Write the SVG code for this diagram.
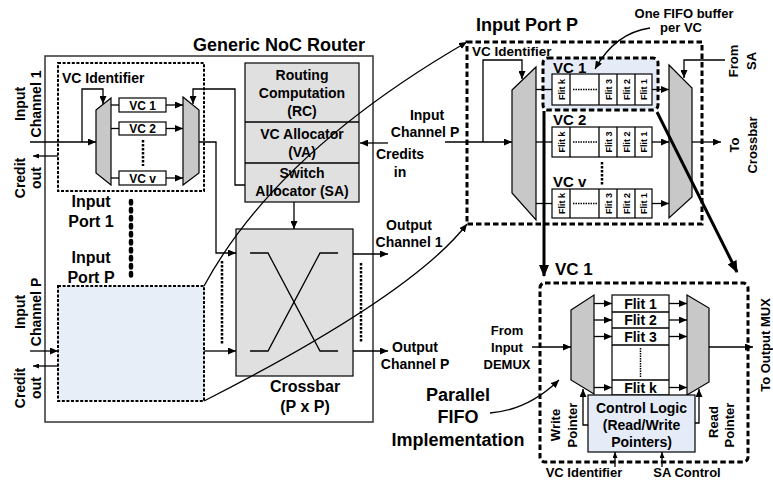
<svg xmlns="http://www.w3.org/2000/svg" width="773" height="481" viewBox="0 0 773 481">
<defs>
<style>
.t{font-family:"Liberation Sans",Arial,sans-serif;font-weight:bold;fill:#000}
.m{text-anchor:middle}
.ln{stroke:#000;stroke-width:1.3;fill:none}
.thk{stroke:#000;stroke-width:3;fill:none}
.mux{fill:#c8c8c8;stroke:#000;stroke-width:1.2}
.box{fill:#fff;stroke:#000;stroke-width:1.2}
.dash{fill:none;stroke:#000;stroke-width:2;stroke-dasharray:3 1.6}
.bdash{stroke:#000;stroke-width:3;stroke-dasharray:5.5 3}
.dots{stroke:#000;stroke-width:2.5;stroke-dasharray:2.5 1.5;fill:none}
.bigdots{stroke:#000;stroke-width:4.5;stroke-linecap:round;stroke-dasharray:2.5 5.5;fill:none}
.gray{fill:#e0e0e0;stroke:#000;stroke-width:1.2}
</style>
<marker id="a" viewBox="0 0 8 7" refX="8" refY="3.5" markerWidth="8" markerHeight="7" markerUnits="userSpaceOnUse" orient="auto"><path d="M0,0 L8,3.5 L0,7 z" fill="#000"/></marker>
<marker id="as" viewBox="0 0 6 5" refX="6" refY="2.5" markerWidth="6" markerHeight="5" markerUnits="userSpaceOnUse" orient="auto"><path d="M0,0 L6,2.5 L0,5 z" fill="#000"/></marker>
<marker id="ab" viewBox="0 0 12 10" refX="11" refY="5" markerWidth="12" markerHeight="10" markerUnits="userSpaceOnUse" orient="auto"><path d="M0,0 L12,5 L0,10 z" fill="#000"/></marker>
</defs>

<g id="router">
<rect x="45" y="56" width="328" height="366" fill="#fff" stroke="#333" stroke-width="1.5"/>
<text class="t m" x="279" y="51" font-size="18">Generic NoC Router</text>
</g>

<g id="input-port-1">
<rect class="dash" x="58" y="63" width="146" height="128"/>
<text class="t" x="62" y="83" font-size="14">VC Identifier</text>
<polygon class="mux" points="96,110 111,98 111,185 96,173"/>
<polygon class="mux" points="183,97 199,110 199,173 183,185"/>
<rect class="box" x="119" y="98" width="47" height="14"/>
<rect class="box" x="119" y="122" width="47" height="13"/>
<rect class="box" x="119" y="171" width="47" height="14"/>
<text class="t m" x="142.5" y="109.5" font-size="12">VC 1</text>
<text class="t m" x="142.5" y="133" font-size="12">VC 2</text>
<text class="t m" x="142.5" y="182.5" font-size="12">VC v</text>
<line class="dots" x1="143" y1="140" x2="143" y2="166"/>
</g>

<g id="labels-left">
<text class="t m" x="25" y="104" font-size="14" transform="rotate(-90 25 104)">Input</text>
<text class="t m" x="41" y="104" font-size="14" transform="rotate(-90 41 104)">Channel 1</text>
<text class="t m" x="25" y="178" font-size="14" transform="rotate(-90 25 178)">Credit</text>
<text class="t m" x="41" y="178" font-size="14" transform="rotate(-90 41 178)">out</text>
<text class="t m" x="25" y="312" font-size="14" transform="rotate(-90 25 312)">Input</text>
<text class="t m" x="41" y="312" font-size="14" transform="rotate(-90 41 312)">Channel P</text>
<text class="t m" x="25" y="388" font-size="14" transform="rotate(-90 25 388)">Credit</text>
<text class="t m" x="41" y="388" font-size="14" transform="rotate(-90 41 388)">out</text>
<text class="t m" x="91" y="207" font-size="16">Input</text>
<text class="t m" x="91" y="227" font-size="16">Port 1</text>
<text class="t m" x="91" y="263" font-size="16">Input</text>
<text class="t m" x="91" y="283" font-size="16">Port P</text>
<line class="bigdots" x1="131" y1="201" x2="131" y2="281"/>
</g>

<g id="input-port-p-small">
<rect x="58" y="286" width="146" height="115" fill="#e8eef8" stroke="none"/>
<rect class="dash" x="58" y="286" width="146" height="115"/>
</g>

<g id="allocators">
<rect class="gray" x="245" y="63" width="114" height="139"/>
<line class="ln" x1="245" y1="122" x2="359" y2="122"/>
<line class="ln" x1="245" y1="163" x2="359" y2="163"/>
<text class="t m" x="302" y="80" font-size="14">Routing</text>
<text class="t m" x="302" y="98" font-size="14">Computation</text>
<text class="t m" x="302" y="116" font-size="14">(RC)</text>
<text class="t m" x="302" y="139" font-size="14">VC Allocator</text>
<text class="t m" x="302" y="157" font-size="14">(VA)</text>
<text class="t m" x="302" y="178" font-size="14">Switch</text>
<text class="t m" x="302" y="196" font-size="14">Allocator (SA)</text>
</g>

<g id="crossbar">
<rect class="gray" x="236" y="229" width="117" height="147"/>
<polyline class="ln" points="250,253 268,253 320,351 338,351" stroke-width="1.1"/>
<polyline class="ln" points="250,351 268,351 320,253 338,253" stroke-width="1.1"/>
<text class="t m" x="305" y="392" font-size="16">Crossbar</text>
<text class="t m" x="305" y="412" font-size="16">(P x P)</text>
<line class="dots" x1="222" y1="261" x2="222" y2="345"/>
<line class="dots" x1="361" y1="263" x2="361" y2="342"/>
</g>

<g id="router-labels">
<text class="t m" x="400" y="159" font-size="14">Credits</text>
<text class="t m" x="400" y="177" font-size="14">in</text>
<text class="t m" x="409" y="230" font-size="14">Output</text>
<text class="t m" x="409" y="247" font-size="14">Channel 1</text>
<text class="t m" x="415" y="352" font-size="14">Output</text>
<text class="t m" x="415" y="369" font-size="14">Channel P</text>
<text class="t m" x="427" y="120" font-size="14">Input</text>
<text class="t m" x="425" y="137" font-size="14">Channel P</text>
</g>

<g id="input-port-p">
<text class="t m" x="527" y="31" font-size="18">Input Port P</text>
<rect class="bdash" x="467" y="42" width="235" height="182" fill="none"/>
<text class="t" x="472" y="56" font-size="13.5">VC Identifier</text>
<rect class="bdash" x="543" y="58" width="115" height="52" rx="5" fill="#e6ecf7"/>
<polygon class="mux" points="512,90 536,67 536,220 512,193"/>
<polygon class="mux" points="669,65 692,88 692,197 669,218"/>
<text class="t" x="553" y="73" font-size="15">VC 1</text>
<text class="t" x="553" y="125" font-size="15">VC 2</text>
<text class="t" x="553" y="187" font-size="15">VC v</text>
<g id="buf1">
<rect class="box" x="552" y="74" width="100" height="31"/>
<line class="ln" x1="570" y1="74" x2="570" y2="105"/><line class="ln" x1="599" y1="74" x2="599" y2="105"/><line class="ln" x1="617" y1="74" x2="617" y2="105"/><line class="ln" x1="635" y1="74" x2="635" y2="105"/>
<line class="ln" x1="573" y1="89.5" x2="597" y2="89.5" stroke-width="1.8" stroke-dasharray="1.5 1"/>
</g>
<g id="buf2">
<rect class="box" x="552" y="127" width="100" height="30"/>
<line class="ln" x1="570" y1="127" x2="570" y2="157"/><line class="ln" x1="599" y1="127" x2="599" y2="157"/><line class="ln" x1="617" y1="127" x2="617" y2="157"/><line class="ln" x1="635" y1="127" x2="635" y2="157"/>
<line class="ln" x1="573" y1="142" x2="597" y2="142" stroke-width="1.8" stroke-dasharray="1.5 1"/>
</g>
<g id="bufv">
<rect class="box" x="552" y="189" width="100" height="29"/>
<line class="ln" x1="570" y1="189" x2="570" y2="218"/><line class="ln" x1="599" y1="189" x2="599" y2="218"/><line class="ln" x1="617" y1="189" x2="617" y2="218"/><line class="ln" x1="635" y1="189" x2="635" y2="218"/>
<line class="ln" x1="573" y1="203.5" x2="597" y2="203.5" stroke-width="1.8" stroke-dasharray="1.5 1"/>
</g>
<g font-size="9">
<text class="t m" x="564.5" y="89.5" transform="rotate(-90 564.5 89.5)">Flit k</text>
<text class="t m" x="611.5" y="89.5" transform="rotate(-90 611.5 89.5)">Flit 3</text>
<text class="t m" x="629.5" y="89.5" transform="rotate(-90 629.5 89.5)">Flit 2</text>
<text class="t m" x="647" y="89.5" transform="rotate(-90 647 89.5)">Flit 1</text>
<text class="t m" x="564.5" y="142" transform="rotate(-90 564.5 142)">Flit k</text>
<text class="t m" x="611.5" y="142" transform="rotate(-90 611.5 142)">Flit 3</text>
<text class="t m" x="629.5" y="142" transform="rotate(-90 629.5 142)">Flit 2</text>
<text class="t m" x="647" y="142" transform="rotate(-90 647 142)">Flit 1</text>
<text class="t m" x="564.5" y="203.5" transform="rotate(-90 564.5 203.5)">Flit k</text>
<text class="t m" x="611.5" y="203.5" transform="rotate(-90 611.5 203.5)">Flit 3</text>
<text class="t m" x="629.5" y="203.5" transform="rotate(-90 629.5 203.5)">Flit 2</text>
<text class="t m" x="647" y="203.5" transform="rotate(-90 647 203.5)">Flit 1</text>
</g>
<line class="dots" x1="602" y1="162" x2="602" y2="186"/>
<text class="t m" x="684" y="18" font-size="13">One FIFO buffer</text>
<text class="t m" x="681" y="32" font-size="13">per VC</text>
<text class="t m" x="738" y="61" font-size="13" transform="rotate(-90 738 61)">From</text>
<text class="t m" x="756" y="61" font-size="13" transform="rotate(-90 756 61)">SA</text>
<text class="t m" x="739" y="145" font-size="13" transform="rotate(-90 739 145)">To</text>
<text class="t m" x="757" y="145" font-size="13" transform="rotate(-90 757 145)">Crossbar</text>
</g>

<g id="vc1-detail">
<rect class="bdash" x="540" y="283" width="208" height="179" rx="5" fill="none"/>
<text class="t" x="555" y="275" font-size="17">VC 1</text>
<polygon class="mux" points="571,310 594,295 594,394 571,380"/>
<polygon class="mux" points="687,295 709,308 709,382 687,395"/>
<rect class="box" x="612" y="295" width="57" height="100"/>
<line class="ln" x1="612" y1="312" x2="669" y2="312"/>
<line class="ln" x1="612" y1="328" x2="669" y2="328"/>
<line class="ln" x1="612" y1="345" x2="669" y2="345"/>
<line class="ln" x1="612" y1="380" x2="669" y2="380"/>
<line x1="640.5" y1="348" x2="640.5" y2="377" stroke="#000" stroke-width="1.5" stroke-dasharray="1.5 1"/>
<text class="t m" x="640.5" y="308.5" font-size="14">Flit 1</text>
<text class="t m" x="640.5" y="325" font-size="14">Flit 2</text>
<text class="t m" x="640.5" y="341.5" font-size="14">Flit 3</text>
<text class="t m" x="640.5" y="392.5" font-size="14">Flit k</text>
<rect x="588" y="395" width="107" height="57" fill="#e6ecf7" stroke="#000" stroke-width="1.2"/>
<text class="t m" x="641.5" y="413" font-size="14">Control Logic</text>
<text class="t m" x="641.5" y="430" font-size="14">(Read/Write</text>
<text class="t m" x="641.5" y="447" font-size="14">Pointers)</text>
<text class="t m" x="507" y="335" font-size="13">From</text>
<text class="t m" x="507" y="352" font-size="13">Input</text>
<text class="t m" x="507" y="369" font-size="13">DEMUX</text>
<text class="t m" x="560" y="425" font-size="13" transform="rotate(-90 560 425)">Write</text>
<text class="t m" x="577" y="425" font-size="13" transform="rotate(-90 577 425)">Pointer</text>
<text class="t m" x="718" y="422" font-size="13" transform="rotate(-90 718 422)">Read</text>
<text class="t m" x="734" y="425" font-size="13" transform="rotate(-90 734 425)">Pointer</text>
<text class="t m" x="584" y="477" font-size="13">VC Identifier</text>
<text class="t m" x="687" y="477" font-size="13">SA Control</text>
<text class="t m" x="770" y="345" font-size="13" transform="rotate(-90 770 345)">To Output MUX</text>
<text class="t m" x="458" y="401" font-size="18">Parallel</text>
<text class="t m" x="458" y="423" font-size="18">FIFO</text>
<text class="t m" x="458" y="446" font-size="18">Implementation</text>
</g>

<g id="connectors">
<line class="ln" x1="30" y1="142" x2="96" y2="142" marker-end="url(#a)"/>
<polyline class="ln" points="82,142 82,89 103,89 103,104" marker-end="url(#a)"/>
<line class="ln" x1="58" y1="156" x2="33" y2="156" marker-end="url(#as)"/>
<line class="ln" x1="111" y1="105" x2="119" y2="105"/>
<line class="ln" x1="111" y1="128.5" x2="119" y2="128.5"/>
<line class="ln" x1="111" y1="178" x2="119" y2="178"/>
<line class="ln" x1="166" y1="105" x2="183" y2="105" marker-end="url(#a)"/>
<line class="ln" x1="166" y1="128.5" x2="183" y2="128.5" marker-end="url(#a)"/>
<line class="ln" x1="166" y1="178" x2="183" y2="178" marker-end="url(#a)"/>
<polyline class="ln" points="245,185 235,185 235,89 193,89 193,104" marker-end="url(#a)"/>
<polyline class="ln" points="199,142 216,142 216,253 236,253" marker-end="url(#a)"/>
<line class="ln" x1="30" y1="351" x2="58" y2="351" marker-end="url(#a)"/>
<line class="ln" x1="58" y1="366" x2="33" y2="366" marker-end="url(#as)"/>
<line class="ln" x1="204" y1="351" x2="236" y2="351" marker-end="url(#a)"/>
<line class="ln" x1="294" y1="202" x2="294" y2="229" marker-end="url(#a)"/>
<line class="ln" x1="388" y1="143" x2="360" y2="143" marker-end="url(#a)"/>
<line class="ln" x1="353" y1="254" x2="388" y2="254" marker-end="url(#a)"/>
<line class="ln" x1="353" y1="351" x2="388" y2="351" marker-end="url(#a)"/>
<line class="ln" x1="445" y1="142" x2="512" y2="142" marker-end="url(#a)"/>
<polyline class="ln" points="483,142 483,60 522,60 522,79" marker-end="url(#a)"/>
<line class="ln" x1="536" y1="89.5" x2="552" y2="89.5"/>
<line class="ln" x1="536" y1="142" x2="552" y2="142"/>
<line class="ln" x1="536" y1="203.5" x2="552" y2="203.5"/>
<line class="ln" x1="652" y1="89.5" x2="669" y2="89.5" marker-end="url(#a)"/>
<line class="ln" x1="652" y1="142" x2="669" y2="142" marker-end="url(#a)"/>
<line class="ln" x1="652" y1="203.5" x2="669" y2="203.5" marker-end="url(#a)"/>
<polyline class="ln" points="725,60 684,60 684,78" marker-end="url(#a)"/>
<line class="ln" x1="692" y1="142" x2="721" y2="142" marker-end="url(#a)"/>
<path class="ln" d="M650,28 Q615,33 595,69" marker-end="url(#a)"/>
<path class="ln" d="M204,286 Q277,152 467,42" marker-end="url(#a)"/>
<path class="ln" d="M204,401 Q412,295 467,224" marker-end="url(#a)"/>
<line class="thk" x1="544" y1="111" x2="544" y2="276" marker-end="url(#ab)"/>
<line class="thk" x1="657" y1="112" x2="737" y2="272" marker-end="url(#ab)"/>
<line class="ln" x1="532" y1="347" x2="571" y2="347" marker-end="url(#a)"/>
<line class="ln" x1="594" y1="303.5" x2="612" y2="303.5" marker-end="url(#a)"/>
<line class="ln" x1="594" y1="320" x2="612" y2="320" marker-end="url(#a)"/>
<line class="ln" x1="594" y1="336.5" x2="612" y2="336.5" marker-end="url(#a)"/>
<line class="ln" x1="594" y1="387.5" x2="612" y2="387.5" marker-end="url(#a)"/>
<line class="ln" x1="669" y1="303.5" x2="687" y2="303.5" marker-end="url(#a)"/>
<line class="ln" x1="669" y1="320" x2="687" y2="320" marker-end="url(#a)"/>
<line class="ln" x1="669" y1="336.5" x2="687" y2="336.5" marker-end="url(#a)"/>
<line class="ln" x1="669" y1="387.5" x2="687" y2="387.5" marker-end="url(#a)"/>
<line class="ln" x1="709" y1="347" x2="753" y2="347" marker-end="url(#a)"/>
<polyline class="ln" points="588,425 583,425 583,389" marker-end="url(#a)"/>
<polyline class="ln" points="695,423 699,423 699,389" marker-end="url(#a)"/>
<line class="ln" x1="615" y1="467" x2="615" y2="452" marker-end="url(#as)"/>
<line class="ln" x1="662" y1="467" x2="662" y2="452" marker-end="url(#as)"/>
<path class="ln" d="M490,413 Q528,410 559,380" marker-end="url(#a)"/>
</g>
</svg>
